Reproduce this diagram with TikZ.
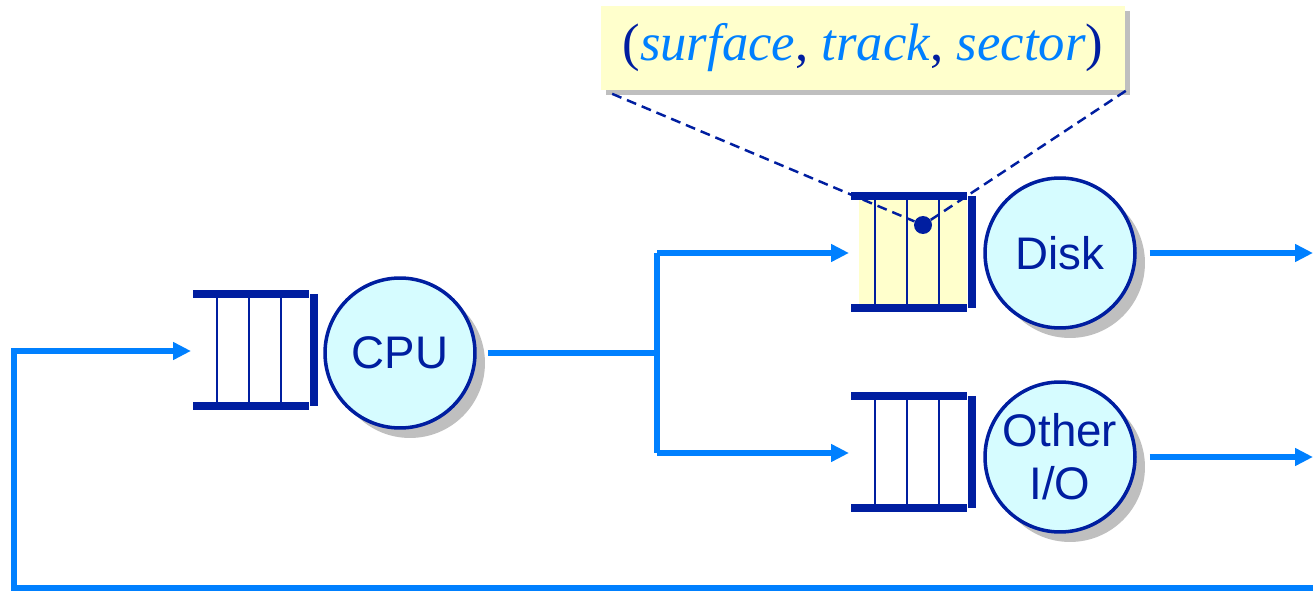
\documentclass[tikz,border=0pt]{standalone}
\usepackage{fontspec}
\setmainfont{Liberation Serif}
\setsansfont{Liberation Sans}
\usetikzlibrary{positioning,shadows,arrows.meta}
\definecolor{navy}{RGB}{0,30,160}
\definecolor{flow}{RGB}{0,128,255}
\definecolor{srvfill}{RGB}{214,252,255}
\definecolor{qyellow}{RGB}{255,255,204}
% queue: #1 entry name, #2 left x, #3 top y (pixel units)
\newcommand{\qbox}[3]{%
  \begin{scope}[shift={(#2,#3)}]
    \foreach \s in {24,56,88}
      \draw[slot] (\s,0) -- (\s,112);
    \draw[bar] (0,0) -- (116,0);
    \draw[bar] (0,112) -- (116,112);
    \draw[bar] (121,0) -- (121,112);
  \end{scope}
  \coordinate (#1) at (#2-2,#3+57);
}
\tikzset{
  flow/.style={draw=flow, line width=3.2pt},
  slot/.style={draw=navy, line width=1.4pt},
  bar/.style={draw=navy, line width=5pt},
  server/.style={circle, draw=navy, line width=2pt, fill=srvfill,
    minimum size=3cm, inner sep=0pt, text=navy, align=center,
    font=\sffamily\fontsize{26}{30}\selectfont,
    drop shadow={shadow xshift=0.2cm, shadow yshift=-0.2cm, fill=gray!50, opacity=1}},
  note/.style={rectangle, fill=qyellow, minimum width=10.5cm, minimum height=1.7cm,
    font=\fontsize{30}{34}\selectfont,
    drop shadow={shadow xshift=0.1cm, shadow yshift=-0.1cm, fill=gray!50, opacity=1}},
  link/.style={draw=navy, line width=1.4pt, dash pattern=on 0.2cm off 0.12cm},
}
\begin{document}
\begin{tikzpicture}[x=0.02cm, y=-0.02cm, >={Triangle[length=0.36cm,width=0.34cm]}]
\useasboundingbox (0,0) rectangle (1313,591);
%
\node[note] (addr) at (863,48) {\textcolor{navy}{(}\textcolor{flow}{\textit{surface}}\textcolor{navy}{,}
  \textcolor{flow}{\textit{track}}\textcolor{navy}{,} \textcolor{flow}{\textit{sector}}\textcolor{navy}{)}};
%
% disk queue: fill first, so the request links sit under the bars
\fill[qyellow] (859,196) rectangle (967,308);
\node[circle, fill=navy, minimum size=0.36cm, inner sep=0pt] (req) at (923,225) {};
\draw[link] (addr.south west) ++(12,3) -- (req);
\draw[link] (addr.south east) -- (req);
%
\qbox{cpuq}{193}{294}
\qbox{diskq}{851}{196}
\qbox{otherq}{851}{396}
%
\node[server] (cpu) at (400,353) {CPU};
\node[server] (disk) at (1060,253) {Disk};
\node[server] (other) at (1060,457) {Other\\I/O};
%
\coordinate (split) at (657,353);
\coordinate (edge) at (1313,0);
\coordinate (corner) at (14,588);
%
\draw[flow,shorten <=0.22cm] (cpu.east) -- (split);
\draw[flow] (split |- diskq) -- (split |- otherq);
\draw[flow,->] (split |- diskq) -- (diskq);
\draw[flow,->] (split |- otherq) -- (otherq);
%
\draw[flow,->,shorten <=0.26cm] (disk.east) -- (disk.east -| edge);
\draw[flow,->,shorten <=0.26cm] (other.east) -- (other.east -| edge);
%
\draw[flow,->] (corner -| edge) -- (corner) |- (cpuq);
%
\end{tikzpicture}
\end{document}
